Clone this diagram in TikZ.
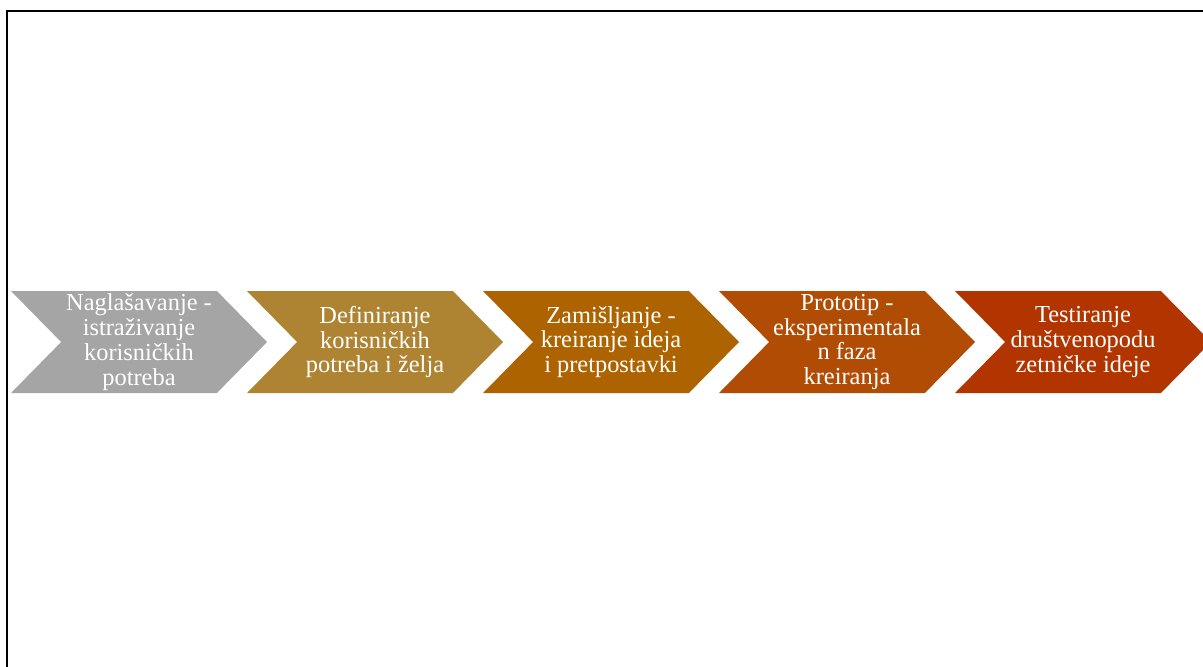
\documentclass[tikz,border=0pt]{standalone}
\usepackage{fontspec}
\setmainfont{Liberation Serif}
\usepackage{xcolor}
\usepackage{tikz}
\usetikzlibrary{shapes.symbols,positioning}

\definecolor{stepgrey}{HTML}{A5A5A5}
\definecolor{stepgold}{HTML}{AE8433}
\definecolor{stepochre}{HTML}{AD6400}
\definecolor{steprust}{HTML}{B04C04}
\definecolor{stepbrick}{HTML}{B23500}

\begin{document}
\begin{tikzpicture}[
    x=0.5pt, y=-0.5pt,
    chev/.style = {signal, signal from=west, signal to=east,
      signal pointer angle=91, minimum width=128pt, minimum height=51pt,
      inner sep=0pt, outer sep=0pt, draw=none, text=white, align=center,
      font=\fontsize{12.2}{12.4}\selectfont}
  ]
  % okvir
  \useasboundingbox (0,0) rectangle (1203,666);
  \clip (0,0) rectangle (1203,666);
  \draw[line width=1pt] (7,680) -- (7,11) -- (1220,11);

  % faze
  \node[chev, fill=stepgrey]  (s1) at (139,342)  {Naglašavanje -\\istraživanje\\korisničkih\\potreba};
  \node[chev, fill=stepgold]  (s2) at (375,342)  {Definiranje\\korisničkih\\potreba i želja};
  \node[chev, fill=stepochre] (s3) at (611,342)  {Zamišljanje -\\kreiranje ideja\\i pretpostavki};
  \node[chev, fill=steprust]  (s4) at (847,342)  {Prototip -\\eksperimentala\\n faza\\kreiranja};
  \node[chev, fill=stepbrick] (s5) at (1083,342) {Testiranje\\društvenopodu\\zetničke ideje};
\end{tikzpicture}
\end{document}
